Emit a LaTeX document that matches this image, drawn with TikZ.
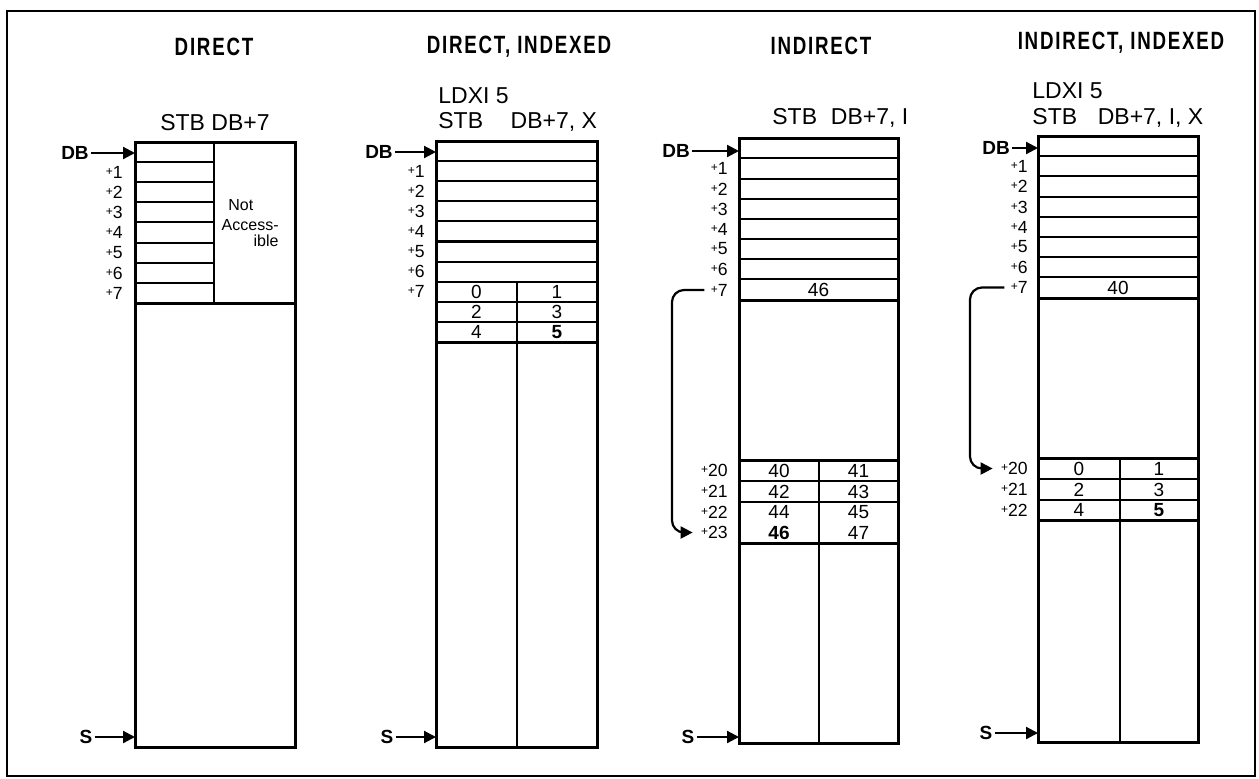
\documentclass[tikz,border=0pt]{standalone}
\usepackage{fontspec}
\setmainfont{Liberation Sans}
\newfontfamily\titlefont[FakeStretch=0.75,LetterSpace=7]{Liberation Sans Bold}
\usetikzlibrary{arrows.meta}
\newcommand\smp{\raisebox{.3ex}{\fontsize{6}{6}\selectfont+}}
\begin{document}
\begin{tikzpicture}[x=0.5pt,y=-0.5pt,
 frame/.style={line width=1.1pt},
 membox/.style={line width=1.5pt},
 rowline/.style={line width=1.1pt},
 title/.style={font=\titlefont\fontsize{12.5}{13}\selectfont, inner sep=0pt},
 instr/.style={font=\fontsize{11.5}{13}\selectfont, inner sep=0pt, anchor=west},
 offs/.style={font=\fontsize{8.8}{9}\selectfont, anchor=east, inner sep=3pt},
 val/.style={font=\fontsize{9.5}{10}\selectfont, inner sep=0pt},
 note/.style={font=\fontsize{8}{9}\selectfont, inner sep=0pt},
 reg/.style={font=\bfseries\fontsize{9.5}{10}\selectfont, inner sep=1pt},
 ptr/.style={line width=1.1pt, -{Triangle[length=6pt,width=6pt]}},
]
\useasboundingbox (0,0) rectangle (1259,778);
\fill[white] (0,0) rectangle (1259,778);
\draw[frame] (7,11) rectangle (1255,776);

% ---------- Panel 1: DIRECT ----------
\node[title] (t1) at (214,47) {DIRECT};
\node[instr, anchor=center] (i1) at (215,123) {STB DB+7};
\draw[membox] (135,142) rectangle (295,747);
\foreach \y in {162,182,202,222,243,263,283} \draw[rowline] (135,\y) -- (214,\y);
\draw[rowline] (214,142) -- (214,303);
\draw[membox] (135,303) -- (295,303);
\foreach \k/\y in {1/172,2/192,3/212,4/232,5/253,6/273,7/293}
  \node[offs] (o1-\k) at (129,\y) {\smp\k};
\node[note, anchor=west] (na1) at (228,205) {Not};
\node[note, anchor=east] (na2) at (279,225) {Access-};
\node[note, anchor=east] (na3) at (279,241) {ible};
\node[reg] (db1) at (75,153) {DB};
\coordinate (db1t) at (135,153);
\draw[ptr] (db1) -- (db1t);
\node[reg] (s1) at (86,737) {S};
\coordinate (s1t) at (135,737);
\draw[ptr] (s1) -- (s1t);

% ---------- Panel 2: DIRECT, INDEXED ----------
\node[title] (t2) at (519,47) {DIRECT, INDEXED};
\node[instr] (i2a) at (438,96) {LDXI 5};
\node[instr] (i2b) at (438,122) {STB\hspace{1.2em}DB+7, X};
\draw[membox] (436,141) rectangle (597,747);
\foreach \y in {161,181,201,221,241.5,261.6,281.7,301.8,321.9} \draw[rowline] (436,\y) -- (597,\y);
\draw[membox] (436,342) -- (597,342);
\draw[rowline] (517,281.7) -- (517,747);
\foreach \k/\y in {1/171,2/191,3/211,4/231.5,5/251.5,6/271.6,7/291.7}
  \node[offs] (o2-\k) at (431,\y) {\smp\k};
\node[val] (v2-0) at (476.5,291.7) {0};
\node[val] (v2-1) at (557,291.7) {1};
\node[val] (v2-2) at (476.5,311.8) {2};
\node[val] (v2-3) at (557,311.8) {3};
\node[val] (v2-4) at (476.5,331.9) {4};
\node[val, font=\bfseries\fontsize{9.5}{10}\selectfont] (v2-5) at (557,331.9) {5};
\node[reg] (db2) at (379,152) {DB};
\coordinate (db2t) at (436,152);
\draw[ptr] (db2) -- (db2t);
\node[reg] (s2) at (387,737) {S};
\coordinate (s2t) at (436,737);
\draw[ptr] (s2) -- (s2t);

% ---------- Panel 3: INDIRECT ----------
\node[title] (t3) at (821,46) {INDIRECT};
\node[instr] (i3) at (772,118) {STB\hspace{0.6em}DB+7, I};
\draw[membox] (739,138) rectangle (898,743);
\foreach \y in {158,179,199,219,239,259,279,481,502} \draw[rowline] (739,\y) -- (898,\y);
\draw[membox] (739,300) -- (898,300);
\draw[membox] (739,460) -- (898,460);
\draw[membox] (739,543) -- (898,543);
\draw[rowline] (819,460) -- (819,743);
\foreach \k/\y in {1/168,2/189,3/209,4/229,5/249,6/269,7/290,20/470.5,21/491.5,22/512,23/532.5}
  \node[offs] (o3-\k) at (734,\y) {\smp\k};
\node[val] (v3-p7) at (818.5,290) {46};
\node[val] (v3-40) at (779,470.5) {40};
\node[val] (v3-41) at (858.5,470.5) {41};
\node[val] (v3-42) at (779,491.5) {42};
\node[val] (v3-43) at (858.5,491.5) {43};
\node[val] (v3-44) at (779,512) {44};
\node[val] (v3-45) at (858.5,512) {45};
\node[val, font=\bfseries\fontsize{9.5}{10}\selectfont] (v3-46) at (779,532.5) {46};
\node[val] (v3-47) at (858.5,532.5) {47};
\node[reg] (db3) at (676,151) {DB};
\coordinate (db3t) at (739,151);
\draw[ptr] (db3) -- (db3t);
\node[reg] (s3) at (688,737) {S};
\coordinate (s3t) at (739,737);
\draw[ptr] (s3) -- (s3t);
\draw[ptr, rounded corners=6pt, shorten >=1pt] (o3-7.west) -- (672,290) -- (672,532.5) -- (o3-23.west);

% ---------- Panel 4: INDIRECT, INDEXED ----------
\node[title] (t4) at (1121,43) {INDIRECT, INDEXED};
\node[instr] (i4a) at (1032,91) {LDXI 5};
\node[instr] (i4b) at (1032,118) {STB\hspace{0.9em}DB+7, I, X};
\draw[membox] (1038,136) rectangle (1198,742);
\foreach \y in {156,176,197,217,237,257,277,479,500} \draw[rowline] (1038,\y) -- (1198,\y);
\draw[membox] (1038,298) -- (1198,298);
\draw[membox] (1038,458) -- (1198,458);
\draw[membox] (1038,520) -- (1198,520);
\draw[rowline] (1120,458) -- (1120,742);
\foreach \k/\y in {1/166,2/186,3/207,4/227,5/247,6/267,7/287.5,20/468.5,21/489.5,22/510}
  \node[offs] (o4-\k) at (1034,\y) {\smp\k};
\node[val] (v4-p7) at (1118,287.5) {40};
\node[val] (v4-0) at (1079,468.5) {0};
\node[val] (v4-1) at (1159,468.5) {1};
\node[val] (v4-2) at (1079,489.5) {2};
\node[val] (v4-3) at (1159,489.5) {3};
\node[val] (v4-4) at (1079,510) {4};
\node[val, font=\bfseries\fontsize{9.5}{10}\selectfont] (v4-5) at (1159,510) {5};
\node[reg] (db4) at (996,148) {DB};
\coordinate (db4t) at (1038,148);
\draw[ptr] (db4) -- (db4t);
\node[reg] (s4) at (986,733) {S};
\coordinate (s4t) at (1038,733);
\draw[ptr] (s4) -- (s4t);
\draw[ptr, rounded corners=6pt, shorten >=1pt] (o4-7.west) -- (970,287.5) -- (970,468.5) -- (o4-20.west);
\end{tikzpicture}
\end{document}
